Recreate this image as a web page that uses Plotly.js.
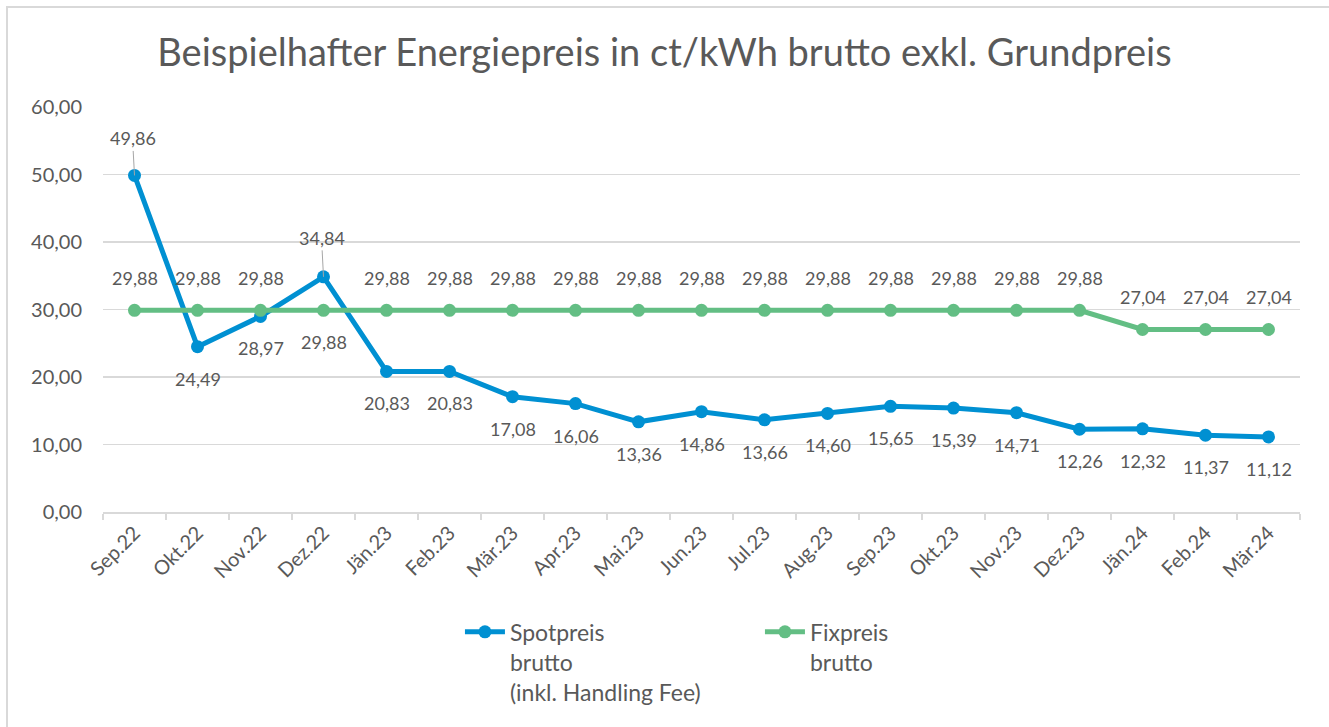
<!DOCTYPE html>
<html>
<head>
<meta charset="utf-8">
<script src="https://cdn.plot.ly/plotly-3.0.1.min.js"></script>
<style>
html,body{margin:0;padding:0;background:#fff;}
#chart{width:1329px;height:727px;}
</style>
</head>
<body>
<div id="chart"></div>
<script>
const months = ["Sep.22","Okt.22","Nov.22","Dez.22","Jän.23","Feb.23","Mär.23","Apr.23","Mai.23","Jun.23","Jul.23","Aug.23","Sep.23","Okt.23","Nov.23","Dez.23","Jän.24","Feb.24","Mär.24"];
const spotpreis = [49.86,24.49,28.97,34.84,20.83,20.83,17.08,16.06,13.36,14.86,13.66,14.60,15.65,15.39,14.71,12.26,12.32,11.37,11.12];
const fixpreis = [29.88,29.88,29.88,29.88,29.88,29.88,29.88,29.88,29.88,29.88,29.88,29.88,29.88,29.88,29.88,29.88,27.04,27.04,27.04];
const yTicks = [0,10,20,30,40,50,60];

const blue = "#0090D2";
const green = "#63BE84";
const textColor = "#595959";
const font = "Lato, 'Open Sans', sans-serif";

function fmt(v){ return v.toFixed(2).replace('.', ','); }

// label placement exceptions (style)
const spotAbove = {0:-37, 3:-39};
const fixBelow = {3:true};

const annotations = [];
spotpreis.forEach((v,i)=>{
  if (spotAbove[i] !== undefined) {
    annotations.push({x:i, y:v, xref:'x', yref:'y', text:fmt(v), showarrow:true,
      ax:-2, ay:spotAbove[i], arrowhead:0, arrowwidth:1, arrowcolor:'#A6A6A6', standoff:0,
      font:{family:font, size:18, color:textColor}});
  } else {
    annotations.push({x:i, y:v, xref:'x', yref:'y', text:fmt(v), showarrow:false,
      yshift:-32, font:{family:font, size:18, color:textColor}});
  }
});
fixpreis.forEach((v,i)=>{
  annotations.push({x:i, y:v, xref:'x', yref:'y', text:fmt(v), showarrow:false,
    yshift: fixBelow[i] ? -32 : 32, font:{family:font, size:18, color:textColor}});
});

const traces = [
  {x:months, y:spotpreis, type:'scatter', mode:'lines+markers', name:'Spotpreis<br>brutto<br>(inkl. Handling Fee)',
   line:{color:blue, width:5}, marker:{color:blue, size:13}},
  {x:months, y:fixpreis, type:'scatter', mode:'lines+markers', name:'Fixpreis<br>brutto',
   line:{color:green, width:5}, marker:{color:green, size:13}}
];

const layout = {
  width:1329, height:727,
  margin:{l:103, r:29, t:107, b:215},
  paper_bgcolor:'#fff', plot_bgcolor:'#fff',
  separators:', ',
  font:{family:font, color:textColor},
  title:{text:'Beispielhafter Energiepreis in ct/kWh brutto exkl. Grundpreis',
    font:{family:font, size:38, color:textColor}, x:0.5, xanchor:'center', y:0.928, yanchor:'middle'},
  xaxis:{type:'category', categoryorder:'array', categoryarray:months, range:[-0.5, months.length-0.5],
    showgrid:false, showline:true, linecolor:'#D9D9D9', linewidth:1.5,
    ticks:'outside', tickson:'boundaries', ticklen:6, tickcolor:'#D9D9D9', tickwidth:1.5,
    tickangle:-45, tickfont:{family:font, size:20, color:textColor}, fixedrange:true},
  yaxis:{range:[0,60], tickvals:yTicks, tickformat:'.2f', showgrid:true, gridcolor:'#D9D9D9', gridwidth:1.5,
    zeroline:false, showline:false, ticks:'', ticklabelstandoff:20,
    tickfont:{family:font, size:20, color:textColor}},
  showlegend:true,
  legend:{orientation:'h', x:0.2982, xanchor:'left', y:-0.243, yanchor:'top',
    font:{family:font, size:23, color:textColor}, entrywidth:245, itemwidth:40, valign:'top'},
  annotations:annotations,
  shapes:[{type:'rect', xref:'paper', yref:'paper', x0:-0.0802, x1:1.05, y0:-0.55, y1:1.2469,
    line:{color:'#D9D9D9', width:2}, fillcolor:'rgba(0,0,0,0)', layer:'below'}]
};

Plotly.newPlot('chart', traces, layout, {displayModeBar:false, staticPlot:true});
</script>
</body>
</html>
